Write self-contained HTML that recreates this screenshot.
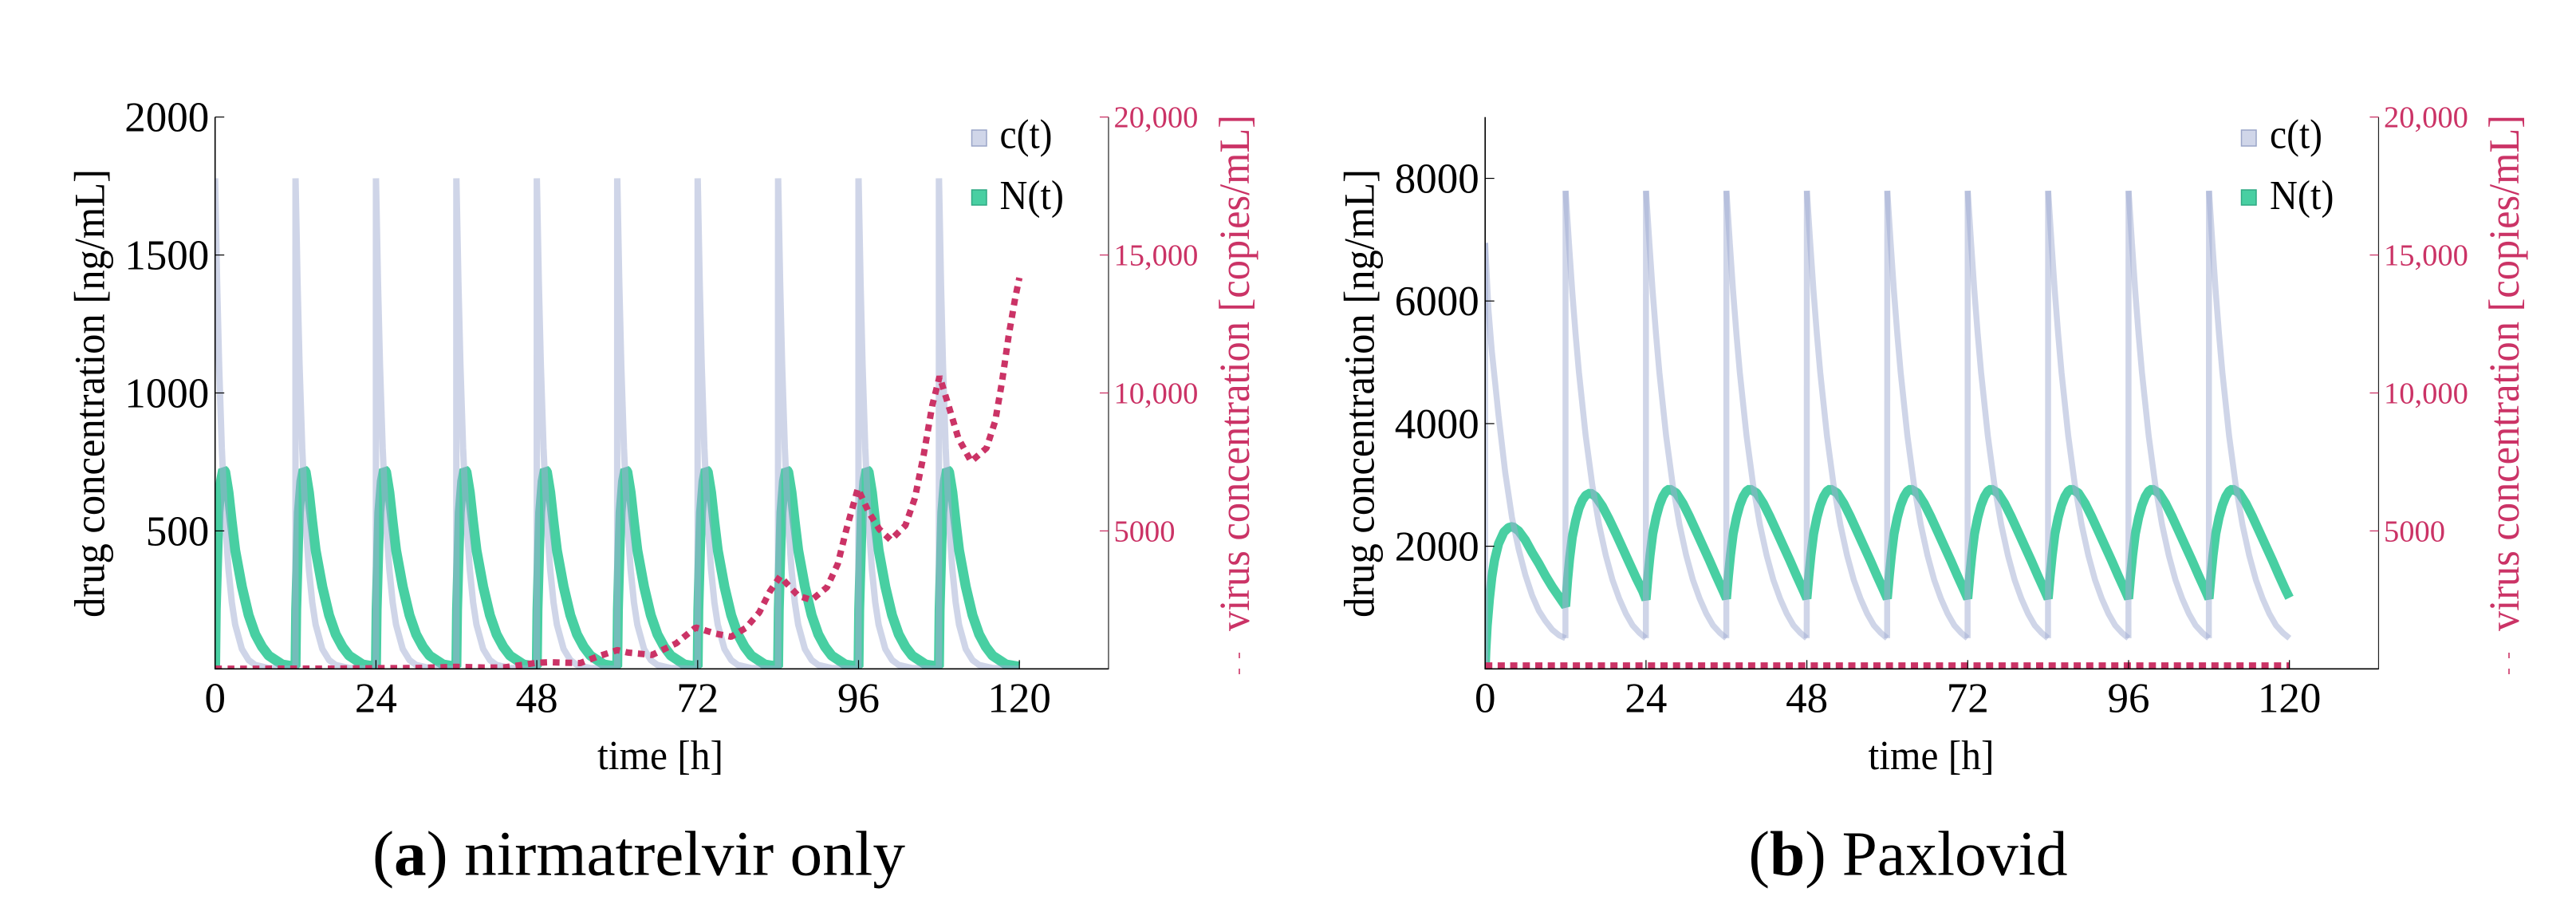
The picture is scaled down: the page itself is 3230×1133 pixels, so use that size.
<!DOCTYPE html>
<html>
<head>
<meta charset="utf-8">
<title>Drug and virus concentration: nirmatrelvir only vs Paxlovid</title>
<style>
html,body{margin:0;padding:0;background:#fff;}
svg{display:block;}
text{font-family:"Liberation Serif",serif;}
</style>
</head>
<body>
<svg id="figure" xmlns="http://www.w3.org/2000/svg" width="3230" height="1133" viewBox="0 0 3230 1133">
  <rect x="0" y="0" width="3230" height="1133" fill="#fff"/>
  <defs>
    <clipPath id="clip-a"><rect x="269.7" y="146" width="1120" height="692.6"/></clipPath>
    <clipPath id="clip-b"><rect x="1862.2" y="146" width="1120.4" height="692.6"/></clipPath>
  </defs>

  <g id="panel-a">
    <g id="marks-a" clip-path="url(#clip-a)"></g>
    <g id="axes-a"></g>
    <text transform="translate(130.5 493) rotate(-90)" text-anchor="middle" font-size="54" textLength="562" lengthAdjust="spacingAndGlyphs" fill="#000">drug concentration [ng/mL]</text>
    <text transform="translate(1566 467.5) rotate(-90)" text-anchor="middle" font-size="54" textLength="647" lengthAdjust="spacingAndGlyphs" fill="#cb3366">virus concentration [copies/mL]</text>
    <line x1="1554" y1="818" x2="1554" y2="825" stroke="#cb3366" stroke-width="1.6"/>
    <line x1="1554" y1="838" x2="1554" y2="845" stroke="#cb3366" stroke-width="1.6"/>
    <text x="828" y="964" text-anchor="middle" font-size="52" textLength="158" lengthAdjust="spacingAndGlyphs" fill="#000">time [h]</text>
    <g>
      <rect x="1218.5" y="163" width="18.5" height="20" fill="#d0d6e9" stroke="#9aa5c8" stroke-width="1.5"/>
      <text x="1253.5" y="185.5" font-size="52" textLength="66" lengthAdjust="spacingAndGlyphs" fill="#000">c(t)</text>
      <rect x="1218.5" y="238" width="18.5" height="19" fill="#48cfa2" stroke="#2fa983" stroke-width="1.5"/>
      <text x="1253.5" y="262" font-size="52" textLength="80.5" lengthAdjust="spacingAndGlyphs" fill="#000">N(t)</text>
    </g>
    <text x="467" y="1096.5" font-size="79" textLength="668" lengthAdjust="spacingAndGlyphs" fill="#000">(<tspan font-weight="bold">a</tspan>) nirmatrelvir only</text>
  </g>

  <g id="panel-b">
    <g id="marks-b" clip-path="url(#clip-b)"></g>
    <g id="axes-b"></g>
    <text transform="translate(1722.5 493) rotate(-90)" text-anchor="middle" font-size="54" textLength="562" lengthAdjust="spacingAndGlyphs" fill="#000">drug concentration [ng/mL]</text>
    <text transform="translate(3158 467.5) rotate(-90)" text-anchor="middle" font-size="54" textLength="647" lengthAdjust="spacingAndGlyphs" fill="#cb3366">virus concentration [copies/mL]</text>
    <line x1="3146" y1="818" x2="3146" y2="825" stroke="#cb3366" stroke-width="1.6"/>
    <line x1="3146" y1="838" x2="3146" y2="845" stroke="#cb3366" stroke-width="1.6"/>
    <text x="2421.5" y="964" text-anchor="middle" font-size="52" textLength="158" lengthAdjust="spacingAndGlyphs" fill="#000">time [h]</text>
    <g>
      <rect x="2810.5" y="163" width="18.5" height="20" fill="#d0d6e9" stroke="#9aa5c8" stroke-width="1.5"/>
      <text x="2846" y="185.5" font-size="52" textLength="66" lengthAdjust="spacingAndGlyphs" fill="#000">c(t)</text>
      <rect x="2810.5" y="238" width="18.5" height="19" fill="#48cfa2" stroke="#2fa983" stroke-width="1.5"/>
      <text x="2846" y="262" font-size="52" textLength="80.5" lengthAdjust="spacingAndGlyphs" fill="#000">N(t)</text>
    </g>
    <text x="2192.5" y="1096.5" font-size="79" textLength="400" lengthAdjust="spacingAndGlyphs" fill="#000">(<tspan font-weight="bold">b</tspan>) Paxlovid</text>
  </g>
</svg>

<script>
// ---------- tick data ----------
var xTickValues = [0, 24, 48, 72, 96, 120];
var yTickValuesA = [500, 1000, 1500, 2000];
var yTickValuesB = [2000, 4000, 6000, 8000];
var virusTickValues = [5000, 10000, 15000, 20000];
var virusTickLabels = ['5000', '10,000', '15,000', '20,000'];

// ---------- panel (a) nirmatrelvir only ----------
var timeCA = [
0,0.3,0.6,1,1.5,2,2.5,3,4,5,6,8,11.99,
12,12.3,12.6,13,13.5,14,14.5,15,16,17,18,20,23.99,
24,24.3,24.6,25,25.5,26,26.5,27,28,29,30,32,35.99,
36,36.3,36.6,37,37.5,38,38.5,39,40,41,42,44,47.99,
48,48.3,48.6,49,49.5,50,50.5,51,52,53,54,56,59.99,
60,60.3,60.6,61,61.5,62,62.5,63,64,65,66,68,71.99,
72,72.3,72.6,73,73.5,74,74.5,75,76,77,78,80,83.99,
84,84.3,84.6,85,85.5,86,86.5,87,88,89,90,92,95.99,
96,96.3,96.6,97,97.5,98,98.5,99,100,101,102,104,107.99,
108,108.3,108.6,109,109.5,110,110.5,111,112,113,114,116,120
];
var concCA = [
1778,1400,1100,800,535,360,240,160,72,32,14,3,0,
1778,1400,1100,800,535,360,240,160,72,32,14,3,0,
1778,1400,1100,800,535,360,240,160,72,32,14,3,0,
1778,1400,1100,800,535,360,240,160,72,32,14,3,0,
1778,1400,1100,800,535,360,240,160,72,32,14,3,0,
1778,1400,1100,800,535,360,240,160,72,32,14,3,0,
1778,1400,1100,800,535,360,240,160,72,32,14,3,0,
1778,1400,1100,800,535,360,240,160,72,32,14,3,0,
1778,1400,1100,800,535,360,240,160,72,32,14,3,0,
1778,1400,1100,800,535,360,240,160,72,32,14,3,0
];
var timeNA = [
0,0.1,0.35,0.5,0.87,1.2,1.5,2,2.5,3,4,5,6,7,8,10,
12,12.1,12.35,12.5,12.87,13.2,13.5,14,14.5,15,16,17,18,19,20,22,
24,24.1,24.35,24.5,24.87,25.2,25.5,26,26.5,27,28,29,30,31,32,34,
36,36.1,36.35,36.5,36.87,37.2,37.5,38,38.5,39,40,41,42,43,44,46,
48,48.1,48.35,48.5,48.87,49.2,49.5,50,50.5,51,52,53,54,55,56,58,
60,60.1,60.35,60.5,60.87,61.2,61.5,62,62.5,63,64,65,66,67,68,70,
72,72.1,72.35,72.5,72.87,73.2,73.5,74,74.5,75,76,77,78,79,80,82,
84,84.1,84.35,84.5,84.87,85.2,85.5,86,86.5,87,88,89,90,91,92,94,
96,96.1,96.35,96.5,96.87,97.2,97.5,98,98.5,99,100,101,102,103,104,106,
108,108.1,108.35,108.5,108.87,109.2,109.5,110,110.5,111,112,113,114,115,116,118,
120
];
var concNA = [
0,214,433,567,680,722,715,640,530,430,298,195,125,80,48,16,
8,214,433,567,680,722,715,640,530,430,298,195,125,80,48,16,
8,214,433,567,680,722,715,640,530,430,298,195,125,80,48,16,
8,214,433,567,680,722,715,640,530,430,298,195,125,80,48,16,
8,214,433,567,680,722,715,640,530,430,298,195,125,80,48,16,
8,214,433,567,680,722,715,640,530,430,298,195,125,80,48,16,
8,214,433,567,680,722,715,640,530,430,298,195,125,80,48,16,
8,214,433,567,680,722,715,640,530,430,298,195,125,80,48,16,
8,214,433,567,680,722,715,640,530,430,298,195,125,80,48,16,
8,214,433,567,680,722,715,640,530,430,298,195,125,80,48,16,
8
];
var timeVA = [0,6,12,18,24,30,36,40,43,46,48,50,52,54.5,57,60,61.6,65.2,68.8,71.7,74.7,77,79.2,81.2,82.8,84.3,85.8,87,89,91.3,92.9,94.2,95.9,97.5,99.1,100.8,103,104.4,105.7,107,108.1,109.6,110.9,112.8,115.1,116.4,117.4,118.4,119.4,120];
var virusA = [5,5,10,10,25,30,75,50,50,150,220,240,225,210,440,680,590,505,925,1500,1276,1164,1486,2047,2818,3350,2958,2650,2495,2958,3800,5061,6533,5692,5061,4669,5200,6183,7725,9548,10600,9408,8356,7515,8005,8987,10389,12071,13473,14174];

// ---------- panel (b) Paxlovid ----------
var timeCB = [
0,0,0.5,1,2,3,4,5,6,7,8,9,10,11,11.98,
12,12.5,13,13.5,14,15,16,17,18,19,20,21,22,23,23.98,
24,24.5,25,25.5,26,27,28,29,30,31,32,33,34,35,35.98,
36,36.5,37,37.5,38,39,40,41,42,43,44,45,46,47,47.98,
48,48.5,49,49.5,50,51,52,53,54,55,56,57,58,59,59.98,
60,60.5,61,61.5,62,63,64,65,66,67,68,69,70,71,71.98,
72,72.5,73,73.5,74,75,76,77,78,79,80,81,82,83,83.98,
84,84.5,85,85.5,86,87,88,89,90,91,92,93,94,95,95.98,
96,96.5,97,97.5,98,99,100,101,102,103,104,105,106,107,107.98,
108,108.5,109,109.5,110,111,112,113,114,115,116,117,118,119,120
];
var concCB = [
0,6948,5850,5180,4130,3200,2470,1950,1530,1200,950,780,640,550,500,
7797,6950,6150,5450,4830,3800,2990,2350,1850,1450,1147,900,710,590,500,
7797,6950,6150,5450,4830,3800,2990,2350,1850,1450,1147,900,710,590,500,
7797,6950,6150,5450,4830,3800,2990,2350,1850,1450,1147,900,710,590,500,
7797,6950,6150,5450,4830,3800,2990,2350,1850,1450,1147,900,710,590,500,
7797,6950,6150,5450,4830,3800,2990,2350,1850,1450,1147,900,710,590,500,
7797,6950,6150,5450,4830,3800,2990,2350,1850,1450,1147,900,710,590,500,
7797,6950,6150,5450,4830,3800,2990,2350,1850,1450,1147,900,710,590,500,
7797,6950,6150,5450,4830,3800,2990,2350,1850,1450,1147,900,710,590,500,
7797,6950,6150,5450,4830,3800,2990,2350,1850,1450,1147,900,710,590,500
];
var timeNB = [
0,0.1,0.3,0.64,1,1.4,2,2.8,3.5,4.1,5,6,7,8,9,10,11,
12,12.3,12.6,13,13.5,14,14.5,15,15.7,16.5,17.5,18.5,19.5,20.5,21.5,22.5,23.5,
24,24.3,24.6,25,25.5,26,26.5,27,27.5,28.5,29.5,30.5,31.5,32.5,33.5,34.5,35.5,
36,36.3,36.6,37,37.5,38,38.5,39,39.5,40.5,41.5,42.5,43.5,44.5,45.5,46.5,47.5,
48,48.3,48.6,49,49.5,50,50.5,51,51.5,52.5,53.5,54.5,55.5,56.5,57.5,58.5,59.5,
60,60.3,60.6,61,61.5,62,62.5,63,63.5,64.5,65.5,66.5,67.5,68.5,69.5,70.5,71.5,
72,72.3,72.6,73,73.5,74,74.5,75,75.5,76.5,77.5,78.5,79.5,80.5,81.5,82.5,83.5,
84,84.3,84.6,85,85.5,86,86.5,87,87.5,88.5,89.5,90.5,91.5,92.5,93.5,94.5,95.5,
96,96.3,96.6,97,97.5,98,98.5,99,99.5,100.5,101.5,102.5,103.5,104.5,105.5,106.5,107.5,
108,108.3,108.6,109,109.5,110,110.5,111,111.5,112.5,113.5,114.5,115.5,116.5,117.5,118.5,119.5,
120
];
var concNB = [
0,300,700,1145,1500,1774,2040,2232,2305,2322,2250,2100,1900,1720,1520,1340,1180,
1020,1450,1800,2150,2420,2620,2750,2830,2870,2810,2650,2440,2210,1970,1730,1490,1270,
1130,1520,1850,2200,2470,2670,2810,2900,2935,2870,2700,2480,2240,2000,1760,1510,1270,
1145,1520,1850,2200,2470,2670,2810,2900,2935,2870,2700,2480,2240,2000,1760,1510,1270,
1145,1520,1850,2200,2470,2670,2810,2900,2935,2870,2700,2480,2240,2000,1760,1510,1270,
1145,1520,1850,2200,2470,2670,2810,2900,2935,2870,2700,2480,2240,2000,1760,1510,1270,
1145,1520,1850,2200,2470,2670,2810,2900,2935,2870,2700,2480,2240,2000,1760,1510,1270,
1145,1520,1850,2200,2470,2670,2810,2900,2935,2870,2700,2480,2240,2000,1760,1510,1270,
1145,1520,1850,2200,2470,2670,2810,2900,2935,2870,2700,2480,2240,2000,1760,1510,1270,
1145,1520,1850,2200,2470,2670,2810,2900,2935,2870,2700,2480,2240,2000,1760,1510,1270,
1160
];
var timeVB = [0, 24, 48, 72, 96, 120];
var virusB = [120, 120, 120, 120, 120, 120];

// ---------- axis functions ----------
var NS = 'http://www.w3.org/2000/svg';
var PINK = '#cb3366';
var AXIS_BOTTOM = 838.3;
var AXIS_TOP = 146.7;
var HOUR_PX = 8.404;

function xScaleA(t) { return 269.7 + t * HOUR_PX; }
function xScaleB(t) { return 1862.2 + t * HOUR_PX; }
function yScaleA(v) { return AXIS_BOTTOM - v * (AXIS_BOTTOM - AXIS_TOP) / 2000; }
function yScaleB(v) { return AXIS_BOTTOM - v * (AXIS_BOTTOM - AXIS_TOP) / 9000; }
function yScaleVirus(v) { return AXIS_BOTTOM - v * (AXIS_BOTTOM - AXIS_TOP) / 20000; }

function pathFrom(times, values, fx, fy, from, to) {
  var d = '';
  for (var i = from; i <= to; i++) {
    d += (i === from ? 'M' : 'L') + fx(times[i]).toFixed(2) + ' ' + fy(values[i]).toFixed(2);
  }
  return d;
}

function addPath(parent, d, stroke, width, opacity, dash) {
  var p = document.createElementNS(NS, 'path');
  p.setAttribute('d', d);
  p.setAttribute('fill', 'none');
  p.setAttribute('stroke', stroke);
  p.setAttribute('stroke-width', width);
  p.setAttribute('stroke-linejoin', 'bevel');
  p.setAttribute('stroke-linecap', 'butt');
  if (opacity < 1) p.setAttribute('stroke-opacity', opacity);
  if (dash) p.setAttribute('stroke-dasharray', dash);
  parent.appendChild(p);
  return p;
}

function addLine(parent, x1, y1, x2, y2, stroke, width) {
  var l = document.createElementNS(NS, 'line');
  l.setAttribute('x1', x1);
  l.setAttribute('y1', y1);
  l.setAttribute('x2', x2);
  l.setAttribute('y2', y2);
  l.setAttribute('stroke', stroke);
  l.setAttribute('stroke-width', width);
  parent.appendChild(l);
  return l;
}

function addText(parent, x, y, str, size, fill, anchor) {
  var t = document.createElementNS(NS, 'text');
  t.setAttribute('x', x);
  t.setAttribute('y', y);
  t.setAttribute('font-size', size);
  t.setAttribute('fill', fill);
  t.setAttribute('text-anchor', anchor);
  t.textContent = str;
  parent.appendChild(t);
  return t;
}

function drawAxes(group, fx, fy, yTicks) {
  var x0 = fx(0);
  var xRight = fx(133.3);
  var a;
  a = addLine(group, x0, AXIS_TOP, x0, AXIS_BOTTOM + 0.7, '#000', 1.6);
  
  
  a = addLine(group, x0, AXIS_BOTTOM, xRight, AXIS_BOTTOM, '#000', 1.6);
  
  
  a = addLine(group, xRight, AXIS_TOP, xRight, AXIS_BOTTOM + 0.7, '#222', 1.2);
  
  

  xTickValues.forEach(function (v) {
    var tick = addLine(group, fx(v), AXIS_BOTTOM, fx(v), AXIS_BOTTOM - 11, '#000', 1.2);
    
    
    var label = addText(group, fx(v), 892.7, String(v), 53, '#000', 'middle');
    
    
  });

  yTicks.forEach(function (v) {
    var tick = addLine(group, x0, fy(v), x0 + 11.5, fy(v), '#000', 1.2);
    
    
    var label = addText(group, x0 - 7.5, fy(v) + 18, String(v), 53, '#000', 'end');
    
    
  });

  virusTickValues.forEach(function (v, i) {
    var tick = addLine(group, xRight - 11, yScaleVirus(v), xRight, yScaleVirus(v), PINK, 1.3);
    
    
    var label = addText(group, xRight + 6.5, yScaleVirus(v) + 13, virusTickLabels[i], 38.5, PINK, 'start');
    
    
  });
}

// c(t) in panel (b) is split into rising and falling runs, so the overlaps darken as in the picture
function drawRuns(group, times, values, fx, fy, stroke, width, opacity) {
  var start = 0;
  for (var i = 1; i < values.length; i++) {
    var turning = i === values.length - 1 ||
      ((values[i] - values[i - 1]) * (values[i + 1] - values[i]) < 0);
    if (turning) {
      var run = addPath(group, pathFrom(times, values, fx, fy, start, i), stroke, width, opacity);
      
      
      start = i;
    }
  }
}

// ---------- draw panel (a) ----------
var marksA = document.getElementById('marks-a');
var nLineA = addPath(marksA, pathFrom(timeNA, concNA, xScaleA, yScaleA, 0, timeNA.length - 1), '#48cfa2', 12.5, 1);


var cLineA = addPath(marksA, pathFrom(timeCA, concCA, xScaleA, yScaleA, 0, timeCA.length - 1), '#a0acd2', 8, 0.5);


var vLineA = addPath(marksA, pathFrom(timeVA, virusA, xScaleA, yScaleVirus, 0, timeVA.length - 1), PINK, 8, 1, '8.5 7.2');


drawAxes(document.getElementById('axes-a'), xScaleA, yScaleA, yTickValuesA);

// ---------- draw panel (b) ----------
var marksB = document.getElementById('marks-b');
var nLineB = addPath(marksB, pathFrom(timeNB, concNB, xScaleB, yScaleB, 0, timeNB.length - 1), '#48cfa2', 11.5, 1);


drawRuns(marksB, timeCB, concCB, xScaleB, yScaleB, '#a0acd2', 7.5, 0.5);
var vLineB = addPath(marksB, pathFrom(timeVB, virusB, xScaleB, yScaleVirus, 0, timeVB.length - 1), PINK, 8, 1, '9 6.7');


drawAxes(document.getElementById('axes-b'), xScaleB, yScaleB, yTickValuesB);
</script>
</body>
</html>
